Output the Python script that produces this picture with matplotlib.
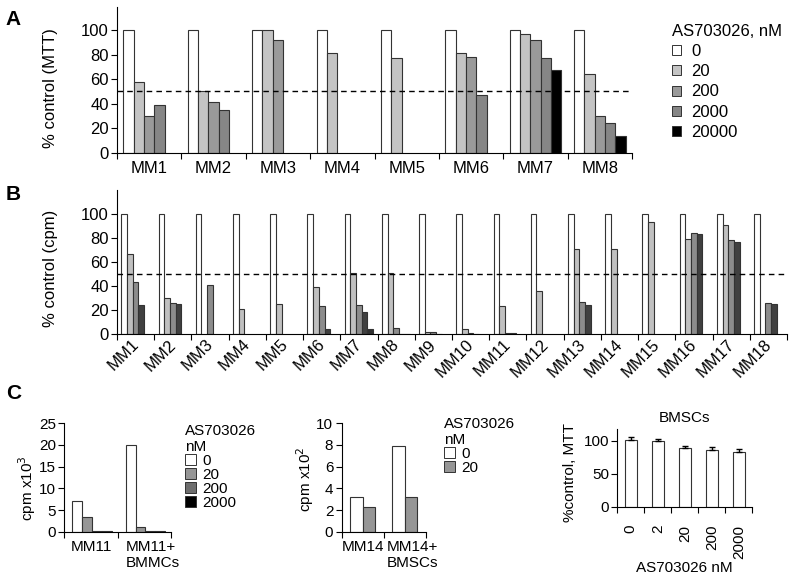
import numpy as np
import matplotlib
matplotlib.use("Agg")
import matplotlib.pyplot as plt
from matplotlib.patches import Patch
from matplotlib.transforms import ScaledTranslation

plt.rcParams['font.family'] = ['Liberation Sans', 'DejaVu Sans']
nan = np.nan

# ---------------- data ----------------
doses_a = ['0', '20', '200', '2000', '20000']
groups_a = ['MM1', 'MM2', 'MM3', 'MM4', 'MM5', 'MM6', 'MM7', 'MM8']
a_0 = [100, 100, 100, 100, 100, 100, 100, 100]
a_20 = [58, 50, 100, 81, 77, 81, 97, 64]
a_200 = [30, 41, 92, nan, nan, 78, 92, 30]
a_2000 = [39, 35, nan, nan, nan, 47, 77, 24]
a_20000 = [nan, nan, nan, nan, nan, nan, 67, 14]

groups_b = ['MM%d' % i for i in range(1, 19)]
b_0 = [100] * 18
b_20 = [67, 30, nan, 21, 25, 39, 51, 51, 1.5, 4, 23, 36, 71, 71, 93, 79, 91, nan]
b_200 = [43, 26, 41, nan, nan, 23, 24, 5, 1.8, 0.5, 0.8, nan, 27, nan, nan, 84, 78, 26]
b_2000 = [24, 25, nan, nan, nan, 4, 18, 0.4, 0.4, 0.3, 0.5, nan, 24, nan, nan, 83, 77, 25]
b_20000 = [nan, nan, nan, nan, nan, nan, 4, 0.3, nan, nan, nan, nan, nan, nan, nan, nan, nan, nan]

doses_c1 = ['0', '20', '200', '2000']
groups_c1 = ['MM11', 'MM11+\nBMMCs']
c1_0 = [7.1, 20.0]
c1_20 = [3.5, 1.1]
c1_200 = [0.2, 0.2]
c1_2000 = [0.15, 0.1]

doses_c2 = ['0', '20']
groups_c2 = ['MM14', 'MM14+\nBMSCs']
c2_0 = [3.2, 7.9]
c2_20 = [2.3, 3.2]

doses_c3 = ['0', '2', '20', '200', '2000']
c3_vals = [101, 99, 88, 86, 83]
c3_err = [4, 4, 4, 4, 4]

# ---------------- styles ----------------
W, H = 800, 585
fig = plt.figure(figsize=(W / 100, H / 100), dpi=100)
EC = '#333333'
LW = 0.8
cols_a = ['white', '#c4c4c4', '#9a9a9a', '#868686', 'black']
cols_b = ['white', '#c0c0c0', '#8c8c8c', '#404040', '#303030']
cols_c1 = ['white', '#969696', '#6e6e6e', 'black']
cols_c2 = ['white', '#969696']
FS = 12


def fx(px):
    return px / W


def fy(py):
    return 1 - py / H


def rect(l, t, r, b):
    return [fx(l), fy(b), fx(r) - fx(l), (b - t) / H]


def style_axes(ax, ngroups, fs):
    for s in ['top', 'right']:
        ax.spines[s].set_visible(False)
    ax.set_xlim(0, ngroups)
    ax.set_xticks(np.arange(ngroups + 1))
    ax.set_xticklabels([])
    ax.tick_params(axis='x', which='major', direction='out', length=4, width=0.8)
    ax.tick_params(axis='y', direction='out', length=4, width=0.8, labelsize=fs, pad=2)
    ax.tick_params(axis='x', which='minor', length=0, labelsize=fs)


def grouped(ax, series, colors, offset, width):
    n = len(series[0])
    idx = np.arange(n)
    for j, (vals, c) in enumerate(zip(series, colors)):
        x = idx + offset + width * j + width / 2
        ax.bar(x, vals, width=width, color=c, edgecolor=EC, linewidth=LW)


# ---------------- Panel A ----------------
axA = fig.add_axes(rect(117, 6.7, 632, 152.7))
grouped(axA, [a_0, a_20, a_200, a_2000, a_20000], cols_a, 0.1, 0.16)
style_axes(axA, 8, FS)
axA.set_ylim(0, 119)
axA.set_yticks(np.arange(0, 101, 20))
axA.set_xticks(np.arange(8) + 0.5, minor=True)
axA.set_xticklabels(groups_a, minor=True)
axA.tick_params(axis='x', which='minor', pad=6)
axA.axhline(50, color='black', lw=1.0, ls=(0, (4, 3)))
fig.text(fx(50), fy(88), '% control (MTT)', rotation=90, ha='center', va='center', fontsize=FS)
fig.text(fx(13.5), fy(19.5), 'A', fontsize=15, fontweight='bold', ha='center', va='center')
hA = [Patch(facecolor=c, edgecolor=EC, linewidth=0.7) for c in cols_a]
axA.legend(hA, doses_a, title='AS703026, nM', loc='upper left',
           bbox_to_anchor=(fx(672), fy(24)), bbox_transform=fig.transFigure,
           frameon=False, fontsize=FS, title_fontsize=FS,
           handlelength=0.55, handleheight=0.55, handletextpad=0.6,
           borderpad=0, borderaxespad=0, labelspacing=0.31, alignment='left')

# ---------------- Panel B ----------------
axB = fig.add_axes(rect(117, 190, 787, 334))
grouped(axB, [b_0, b_20, b_200, b_2000, b_20000], cols_b, 0.116, 0.153)
style_axes(axB, 18, FS)
axB.set_ylim(0, 120)
axB.set_yticks(np.arange(0, 101, 20))
axB.set_xticks(np.arange(18) + 0.5, minor=True)
axB.set_xticklabels(groups_b, minor=True, rotation=45, ha='right', va='top')
axB.tick_params(axis='x', which='minor', pad=2)
for lbl in axB.get_xticklabels(minor=True):
    lbl.set_transform(lbl.get_transform() + ScaledTranslation(6 / 100, 0, fig.dpi_scale_trans))
axB.axhline(50, color='black', lw=1.0, ls=(0, (4, 3)))
fig.text(fx(50), fy(268), '% control (cpm)', rotation=90, ha='center', va='center', fontsize=FS)
fig.text(fx(13.5), fy(194.5), 'B', fontsize=15, fontweight='bold', ha='center', va='center')

# ---------------- Panel C1 ----------------
FSC = 11
axC1 = fig.add_axes(rect(64.3, 423.3, 171, 531.7))
grouped(axC1, [c1_0, c1_20, c1_200, c1_2000], cols_c1, 0.15, 0.185)
style_axes(axC1, 2, FSC)
axC1.set_ylim(0, 25)
axC1.set_yticks(np.arange(0, 26, 5))
axC1.set_xticks(np.arange(2) + 0.5, minor=True)
axC1.set_xticklabels(groups_c1, minor=True, multialignment='left')
axC1.tick_params(axis='x', which='minor', pad=6)
lbls = axC1.get_xticklabels(minor=True)
lbls[1].set_transform(lbls[1].get_transform() + ScaledTranslation(8 / 100, 0, fig.dpi_scale_trans))
fig.text(fx(27), fy(488), 'cpm x10$^3$', rotation=90, ha='center', va='center', fontsize=FSC)
fig.text(fx(14), fy(393.5), 'C', fontsize=15, fontweight='bold', ha='center', va='center')
hC1 = [Patch(facecolor=c, edgecolor=EC, linewidth=0.7) for c in cols_c1]
axC1.legend(hC1, doses_c1, title='AS703026\nnM', loc='upper left',
            bbox_to_anchor=(fx(185), fy(424)), bbox_transform=fig.transFigure,
            frameon=False, fontsize=FSC, title_fontsize=FSC,
            handlelength=0.75, handleheight=0.75, handletextpad=0.4,
            borderpad=0, borderaxespad=0, labelspacing=0.0, alignment='left')

# ---------------- Panel C2 ----------------
axC2 = fig.add_axes(rect(341.7, 423.3, 425.7, 531.7))
grouped(axC2, [c2_0, c2_20], cols_c2, 0.2, 0.3)
style_axes(axC2, 2, FSC)
axC2.set_ylim(0, 10)
axC2.set_yticks(np.arange(0, 11, 2))
axC2.set_xticks(np.arange(2) + 0.5, minor=True)
axC2.set_xticklabels(groups_c2, minor=True, multialignment='left')
axC2.tick_params(axis='x', which='minor', pad=6)
lbls = axC2.get_xticklabels(minor=True)
lbls[1].set_transform(lbls[1].get_transform() + ScaledTranslation(8 / 100, 0, fig.dpi_scale_trans))
fig.text(fx(305), fy(479), 'cpm x10$^2$', rotation=90, ha='center', va='center', fontsize=FSC)
hC2 = [Patch(facecolor=c, edgecolor=EC, linewidth=0.7) for c in cols_c2]
axC2.legend(hC2, doses_c2, title='AS703026\nnM', loc='upper left',
            bbox_to_anchor=(fx(444), fy(417)), bbox_transform=fig.transFigure,
            frameon=False, fontsize=FSC, title_fontsize=FSC,
            handlelength=0.75, handleheight=0.75, handletextpad=0.4,
            borderpad=0, borderaxespad=0, labelspacing=0.0, alignment='left')

# ---------------- Panel C3 ----------------
axC3 = fig.add_axes(rect(617.3, 429.3, 752.3, 506.7))
xc = np.arange(len(c3_vals)) + 0.5
axC3.bar(xc, c3_vals, width=0.43, color='white', edgecolor=EC, linewidth=LW,
         yerr=[np.zeros(len(c3_err)), c3_err], error_kw=dict(ecolor='black', elinewidth=1.0, capsize=2, capthick=1.0))
style_axes(axC3, 5, FSC)
axC3.set_ylim(0, 117)
axC3.set_yticks([0, 50, 100])
axC3.set_xticks(xc, minor=True)
axC3.set_xticklabels(doses_c3, minor=True, rotation=90, va='top')
axC3.tick_params(axis='x', which='minor', pad=13)
axC3.set_title('BMSCs', fontsize=FSC, pad=5)
fig.text(fx(570), fy(472), '%control, MTT', rotation=90, ha='center', va='center', fontsize=FSC)
fig.text(fx(684), fy(568), 'AS703026 nM', ha='center', va='center', fontsize=FSC)

fig.savefig('out.png', dpi=100)
